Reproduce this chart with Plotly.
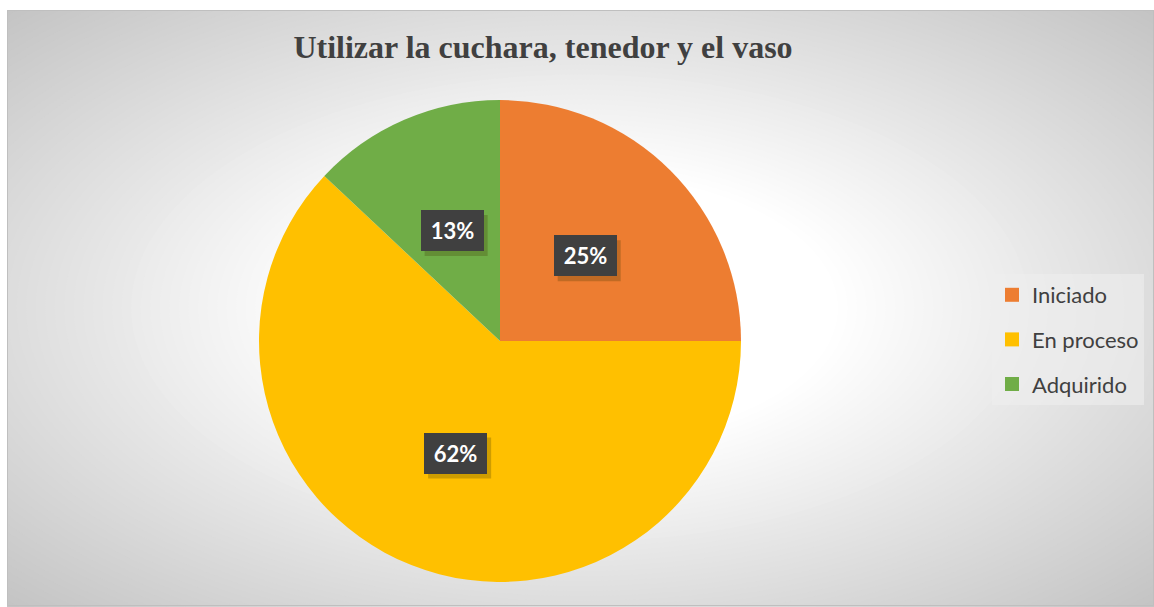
import math
import plotly.graph_objects as go

# ---- data ----
categories = ["Iniciado", "En proceso", "Adquirido"]
values = [25, 62, 13]
colors = ["#ED7D31", "#FFC000", "#70AD47"]
title_text = "Utilizar la cuchara, tenedor y el vaso"

W, H = 1154, 607

# pie geometry (pixels)
cx, cy, R = 500, 341, 241

def px(x):
    return x / W

def py(y):
    return 1 - y / H

fig = go.Figure()

fig.add_trace(go.Pie(
    labels=categories,
    values=values,
    marker=dict(colors=colors, line=dict(width=0)),
    sort=False,
    direction="clockwise",
    rotation=0,
    textinfo="none",
    hoverinfo="label+percent",
    showlegend=False,
    domain=dict(x=[px(cx - R), px(cx + R)], y=[py(cy + R), py(cy - R)]),
))

# legend entries (dummy traces so that spacing can be controlled)
for i, (cat, col) in enumerate(zip(categories, colors)):
    fig.add_trace(go.Scatter(
        x=[None], y=[None], mode="markers", name=cat,
        marker=dict(symbol="square", size=14, color=col),
        legendgroup=f"g{i}", showlegend=True,
    ))

# ---- background: elliptical radial gradient ----
shapes = []
rx0, ry0 = 580, 308
hw, hh = 573, 298
d_in, d_out = 0.45, 1.45
steps = 60
for k in range(steps + 1):
    d = d_out - (d_out - d_in) * k / steps
    t = min(1.0, max(0.0, (d - d_in) / (1.41 - d_in)))
    g = int(round(255 - t * (255 - 196)))
    col = f"rgb({g},{g},{g})"
    shapes.append(dict(
        type="circle", xref="paper", yref="paper", layer="below",
        x0=px(rx0 - hw * d), x1=px(rx0 + hw * d),
        y0=py(ry0 + hh * d), y1=py(ry0 - hh * d),
        fillcolor=col, line=dict(width=0),
    ))
# white margins outside the chart area
shapes.append(dict(type="rect", xref="paper", yref="paper", layer="below",
                   x0=0, x1=1, y0=py(10), y1=1.2, fillcolor="white", line=dict(width=0)))
shapes.append(dict(type="rect", xref="paper", yref="paper", layer="below",
                   x0=-0.2, x1=px(7), y0=-0.2, y1=1.2, fillcolor="white", line=dict(width=0)))
# chart border
shapes.append(dict(type="rect", xref="paper", yref="paper", layer="below",
                   x0=px(7.5), x1=px(1153.5), y0=py(605.5), y1=py(10.5),
                   fillcolor="rgba(0,0,0,0)", line=dict(width=1, color="#bfbfbf")))

# ---- data labels in dark boxes ----
annotations = []
total = sum(values)
cum = 0
box_w, box_h, pad = 63, 41, 6
for v in values:
    mid = (cum + v / 2) / total * 2 * math.pi
    cum += v
    lx = cx + math.sin(mid) * R * 0.5
    ly = cy - math.cos(mid) * R * 0.5
    txt = f"{round(v / total * 100)}%"
    # soft shadow behind the label box
    shapes.append(dict(
        type="rect", xref="paper", yref="paper", layer="above",
        x0=px(lx - box_w / 2 + 4), x1=px(lx + box_w / 2 + 4),
        y0=py(ly + box_h / 2 + 5), y1=py(ly - box_h / 2 + 5),
        fillcolor="rgba(60,50,0,0.25)", line=dict(width=0),
    ))
    annotations.append(dict(
        x=px(lx), y=py(ly), xref="paper", yref="paper", showarrow=False,
        xanchor="center", yanchor="middle",
        text=f"<b>{txt}</b>", font=dict(family="Lato", size=22, color="white"),
        bgcolor="#404040", borderpad=pad, borderwidth=0,
        width=box_w - 2 * pad, height=box_h - 2 * pad,
    ))

fig.update_layout(
    width=W, height=H,
    margin=dict(l=0, r=0, t=0, b=0),
    paper_bgcolor="white",
    plot_bgcolor="rgba(0,0,0,0)",
    shapes=shapes,
    annotations=annotations,
    title=dict(
        text=f"<b>{title_text}</b>",
        x=px(543), xanchor="center", y=py(47), yanchor="middle",
        font=dict(family="Liberation Serif", size=32, color="#404040"),
    ),
    xaxis=dict(visible=False, domain=[0.99, 1]),
    yaxis=dict(visible=False, domain=[0.99, 1]),
    legend=dict(
        x=px(992), y=py(274), xanchor="left", yanchor="top",
        bgcolor="rgba(238,238,238,0.6)",
        font=dict(family="Lato", size=22, color="#404040"),
        tracegroupgap=13,
        itemclick=False, itemdoubleclick=False,
    ),
    showlegend=True,
)

fig.write_html("out.html", config={"displayModeBar": False},
               post_script="document.body.style.margin='0px';")
